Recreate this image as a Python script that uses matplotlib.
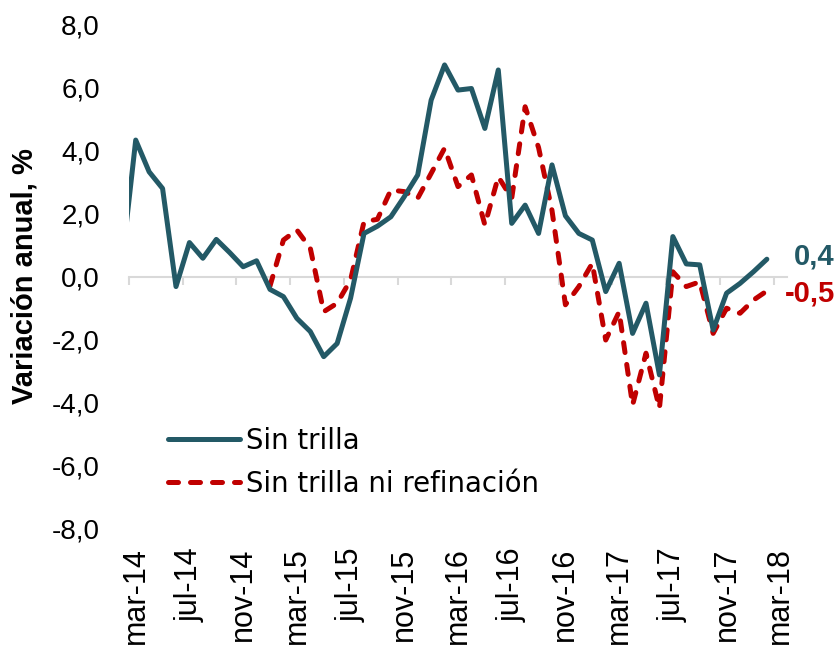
import numpy as np
import pandas as pd
import matplotlib
matplotlib.use('Agg')
import matplotlib.pyplot as plt

plt.rcParams['font.family'] = ['Liberation Sans', 'DejaVu Sans']

# meses feb-14 .. feb-18 (feb-14 queda fuera del eje, solo se ve el tramo)
meses = pd.date_range('2014-02-01', '2018-02-01', freq='MS')

sin_trilla = [0.52, 4.34, 3.33, 2.80, -0.32, 1.08, 0.58, 1.18, 0.76, 0.31, 0.50,
              -0.41, -0.64, -1.33, -1.75, -2.55, -2.13, -0.69, 1.37, 1.60, 1.90,
              2.54, 3.23, 5.61, 6.73, 5.93, 5.98, 4.71, 6.57, 1.69, 2.27, 1.37,
              3.55, 1.93, 1.37, 1.16, -0.48, 0.42, -1.81, -0.85, -3.13, 1.27,
              0.40, 0.37, -1.70, -0.53, -0.22, 0.15, 0.55]

sin_trilla_refin = [np.nan] * 11 + [
    -0.30, 1.16, 1.48, 0.90, -1.12, -0.85, -0.11, 1.74, 1.82, 2.75,
    2.70, 2.49, 3.28, 4.08, 2.86, 3.23, 1.64, 3.17, 2.49, 5.40, 4.10,
    2.10, -0.90, -0.32, 0.42, -2.02, -1.12, -4.09, -2.44, -4.19, 0.15,
    -0.32, -0.17, -1.81, -1.01, -1.17, -0.75, -0.46]

etiquetas_x = ['mar-14', 'jul-14', 'nov-14', 'mar-15', 'jul-15', 'nov-15', 'mar-16',
               'jul-16', 'nov-16', 'mar-17', 'jul-17', 'nov-17', 'mar-18']
etiqueta_fin_1 = '0,4'
etiqueta_fin_2 = '-0,5'

color_1 = '#235966'
color_2 = '#C00000'
gris = '#D9D9D9'

# posicion: meses desde mar-14, punto en el centro del mes
x = np.array([(m.year - 2014) * 12 + m.month - 3 for m in meses]) + 0.5

fig = plt.figure(figsize=(8.4, 6.46), dpi=100)
ax = fig.add_axes([129 / 840, 1 - 528 / 646, 658 / 840, 503 / 646])

l1, = ax.plot(x, sin_trilla, color=color_1, lw=3.6, solid_joinstyle='round',
              solid_capstyle='round', zorder=3, label='Sin trilla')
l2, = ax.plot(x, sin_trilla_refin, color=color_2, lw=3.6, linestyle=(0, (2, 2.4)),
              dash_capstyle='round', dash_joinstyle='round', zorder=2,
              label='Sin trilla ni refinación')

ax.set_xlim(0, 49)
ax.set_ylim(-8, 8)

for s in ['top', 'right', 'left']:
    ax.spines[s].set_visible(False)
ax.spines['bottom'].set_position(('data', 0))
ax.spines['bottom'].set_color(gris)
ax.spines['bottom'].set_linewidth(1.5)
ax.spines['bottom'].set_zorder(1)

ax.set_xticks(np.arange(0, 49, 4))
ax.tick_params(axis='x', length=6, width=1.5, color=gris, labelbottom=False)

yt = np.arange(-8, 9, 2)
ax.set_yticks(yt)
ax.set_yticklabels([f'{v:.1f}'.replace('.', ',') for v in yt])
ax.tick_params(axis='y', length=0, pad=21, labelsize=20)

sec = ax.secondary_xaxis(0)
sec.set_xticks(np.arange(0, 49, 4) + 0.5)
sec.set_xticklabels(etiquetas_x, rotation=90)
sec.tick_params(length=0, pad=14, labelsize=22)
sec.spines['bottom'].set_visible(False)

ax.set_ylabel('Variación anual, %', fontsize=21, fontweight='bold', va='center')
ax.yaxis.set_label_coords(-104 / 658, 0.5)

ax.annotate(etiqueta_fin_1, xy=(x[-1], sin_trilla[-1]), xytext=(49, 2),
            textcoords='offset points', ha='right', va='center',
            fontsize=21, fontweight='bold', color=color_1, annotation_clip=False)
ax.annotate(etiqueta_fin_2, xy=(x[-1], sin_trilla_refin[-1]), xytext=(49, -1.5),
            textcoords='offset points', ha='right', va='center',
            fontsize=21, fontweight='bold', color=color_2, annotation_clip=False)

ax.legend(handles=[l1, l2], loc='upper left', bbox_to_anchor=(168 / 840, 1 - 427 / 646),
          bbox_transform=fig.transFigure, frameon=False,
          prop={'family': 'DejaVu Sans', 'size': 19.8},
          handlelength=2.6, handletextpad=0.25, labelspacing=0.54,
          borderpad=0, borderaxespad=0)

fig.savefig('out.png', dpi=100)
